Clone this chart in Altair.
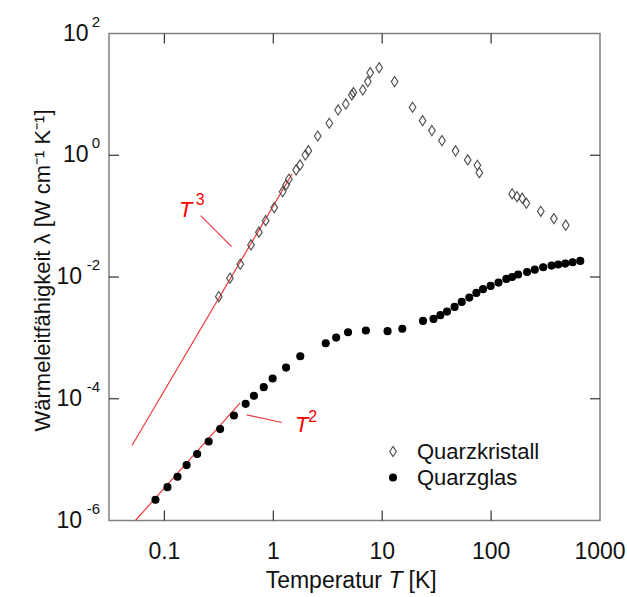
import altair as alt
import pandas as pd

# ---------------- data ----------------
crystal_T = [0.316, 0.400, 0.497, 0.624, 0.738, 0.851, 1.02, 1.22, 1.31, 1.39, 1.62, 1.76,
             1.97, 2.10, 2.56, 3.27, 3.94, 4.63, 5.26, 5.44, 6.64, 7.38, 7.76, 9.38, 13.0,
             19.0, 23.5, 28.6, 35.4, 47.2, 61.0, 74.8, 78.0, 156, 173, 193, 211, 286, 377, 485]
crystal_L = [0.00476, 0.00955, 0.0162, 0.0337, 0.0545, 0.0843, 0.138, 0.252, 0.325, 0.404,
             0.574, 0.693, 1.01, 1.19, 2.07, 3.35, 5.55, 6.95, 9.77, 10.7, 11.8, 16.2, 22.7,
             27.4, 16.2, 6.14, 3.70, 2.54, 1.74, 1.18, 0.838, 0.685, 0.518, 0.232, 0.209,
             0.197, 0.163, 0.120, 0.091, 0.071]

glass_T = [0.0828, 0.1067, 0.132, 0.160, 0.200, 0.255, 0.325, 0.435, 0.557, 0.664, 0.817,
           0.986, 1.31, 1.77, 3.03, 3.78, 4.86, 7.08, 11.2, 15.3, 23.7, 29.6, 34.2, 39.4,
           46.2, 53.7, 63.1, 73.3, 84.3, 99.1, 117, 138, 156, 177, 214, 252, 301, 359, 413,
           480, 560, 659]
glass_L = [2.19e-6, 3.53e-6, 5.22e-6, 8.13e-6, 1.24e-5, 1.98e-5, 3.17e-5, 5.30e-5, 8.24e-5,
           1.12e-4, 1.55e-4, 2.15e-4, 3.25e-4, 5.00e-4, 8.18e-4, 1.01e-3, 1.24e-3, 1.32e-3,
           1.29e-3, 1.41e-3, 1.90e-3, 2.05e-3, 2.36e-3, 2.70e-3, 3.23e-3, 3.90e-3, 4.59e-3,
           5.48e-3, 6.31e-3, 7.14e-3, 8.09e-3, 9.31e-3, 1.00e-2, 1.10e-2, 1.21e-2, 1.32e-2,
           1.45e-2, 1.54e-2, 1.60e-2, 1.66e-2, 1.75e-2, 1.84e-2]

series_names = ["Quarzkristall", "Quarzglas"]

# fit lines (end points)
t3_T = [0.0504, 1.486]
t3_L = [1.71e-5, 0.493]
t2_T = [0.0542, 0.494]
t2_L = [1.0e-6, 8.47e-5]

# annotation leader lines (end points)
lead3_T = [0.215, 0.414]
lead3_L = [0.102, 0.0316]
lead2_T = [0.569, 1.195]
lead2_L = [5.44e-5, 4.07e-5]

x_ticks = [0.1, 1, 10, 100]
x_labels = [0.1, 1, 10, 100, 1000]
x_label_text = ["0.1", "1", "10", "100", "1000"]
y_ticks = [1, 0.01, 1e-4]
y_pos_vals = [1e2, 1e0]
y_pos_exp = ["2", "0"]
y_neg_vals = [1e-2, 1e-4, 1e-6]
y_neg_exp = ["-2", "-4", "-6"]

# ---------------- layout ----------------
W, H = 491, 487
FONT = "Liberation Sans"
RED = "#ff0000"
DIAMOND = "M0,-1.45L0.95,0L0,1.45L-0.95,0Z"

xs = alt.Scale(type="log", domain=[0.031, 1000], nice=False)
ys = alt.Scale(type="log", domain=[1e-6, 1e2], nice=False)


def X(f="T"):
    return alt.X(f"{f}:Q", scale=xs, axis=None)


def Y(f="L"):
    return alt.Y(f"{f}:Q", scale=ys, axis=None)


pts = pd.DataFrame({
    "T": crystal_T + glass_T,
    "L": crystal_L + glass_L,
    "s": [series_names[0]] * len(crystal_T) + [series_names[1]] * len(glass_T),
})

legend = alt.Legend(title=None, orient="none", legendX=273, legendY=407,
                    labelFont=FONT, labelFontSize=22, labelColor="#111",
                    labelOffset=13, rowPadding=4, symbolSize=49, symbolStrokeWidth=1.1,
                    padding=0)

points = alt.Chart(pts).mark_point(size=49, strokeWidth=1.1, opacity=1).encode(
    x=X(), y=Y(),
    shape=alt.Shape("s:N", scale=alt.Scale(domain=series_names, range=[DIAMOND, "circle"]), legend=legend),
    fill=alt.Fill("s:N", scale=alt.Scale(domain=series_names, range=["transparent", "black"]), legend=legend),
    stroke=alt.Stroke("s:N", scale=alt.Scale(domain=series_names, range=["#4a4a4a", "black"]), legend=legend),
)

lines_df = pd.DataFrame({
    "T": t3_T + t2_T + lead3_T + lead2_T,
    "L": t3_L + t2_L + lead3_L + lead2_L,
    "g": ["t3"] * 2 + ["t2"] * 2 + ["l3"] * 2 + ["l2"] * 2,
})
red_lines = alt.Chart(lines_df).mark_line(color="#f03a3a", strokeWidth=1.2).encode(
    x=X(), y=Y(), detail="g:N")

# T^n annotations
ann_T = pd.DataFrame({"T": [0.157, 1.824], "L": [0.097, 2.89e-5], "t": ["T", "T"]})
ann_n = pd.DataFrame({"T": [0.194, 2.099], "L": [0.153, 4.22e-5], "t": ["3", "2"]})
ann1 = alt.Chart(ann_T).mark_text(font=FONT, fontSize=22, fontStyle="italic", color=RED,
                                  align="center", baseline="alphabetic").encode(
    x=X(), y=Y(), text="t:N")
ann2 = alt.Chart(ann_n).mark_text(font=FONT, fontSize=16, color=RED,
                                  align="left", baseline="alphabetic").encode(
    x=X(), y=Y(), text="t:N")

# inward ticks
xt = pd.DataFrame({"T": x_ticks})
yt = pd.DataFrame({"L": y_ticks})
tick_style = dict(color="#333", strokeWidth=1.2)
tb = alt.Chart(xt).mark_rule(**tick_style).encode(x=X(), y=alt.value(H), y2=alt.value(H - 10))
tt = alt.Chart(xt).mark_rule(**tick_style).encode(x=X(), y=alt.value(0), y2=alt.value(10))
tl = alt.Chart(yt).mark_rule(**tick_style).encode(y=Y(), x=alt.value(0), x2=alt.value(10))
tr = alt.Chart(yt).mark_rule(**tick_style).encode(y=Y(), x=alt.value(W), x2=alt.value(W - 10))

# x tick labels
xl = pd.DataFrame({"T": x_labels, "t": x_label_text})
xlab = alt.Chart(xl).mark_text(font=FONT, fontSize=23, color="#111", align="center",
                               baseline="alphabetic").encode(
    x=X(), y=alt.value(H + 38.5), text="t:N")

# y tick labels: "10" + exponent
ylp = pd.DataFrame({"L": y_pos_vals, "e": y_pos_exp, "b": ["10"] * len(y_pos_vals)})
yln = pd.DataFrame({"L": y_neg_vals, "e": y_neg_exp, "b": ["10"] * len(y_neg_vals)})
ybase_pos = alt.Chart(ylp).mark_text(
    font=FONT, fontSize=23, color="#111", align="right", baseline="alphabetic", dy=7).encode(
    y=Y(), x=alt.value(-20.5), text="b:N")
ybase_neg = alt.Chart(yln).mark_text(
    font=FONT, fontSize=23, color="#111", align="right", baseline="alphabetic", dy=7).encode(
    y=Y(), x=alt.value(-27), text="b:N")
yexp_pos = alt.Chart(ylp).mark_text(
    font=FONT, fontSize=15, color="#111", align="right", baseline="alphabetic", dy=-7).encode(
    y=Y(), x=alt.value(-9), text="e:N")
yexp_neg = alt.Chart(yln).mark_text(
    font=FONT, fontSize=15, color="#111", align="right", baseline="alphabetic", dy=-7).encode(
    y=Y(), x=alt.value(-9), text="e:N")

# axis titles
ttl = pd.DataFrame({"t": ["Wärmeleitfähigkeit λ [W cm⁻¹ K⁻¹]"]})
ytitle = alt.Chart(ttl).mark_text(font=FONT, fontSize=22, color="#111", angle=270,
                                  align="center", baseline="alphabetic").encode(
    x=alt.value(-59), y=alt.value(237), text="t:N")
xt_parts = pd.DataFrame({"t": ["Temperatur", "T", "[K]"]})
xt1 = alt.Chart(xt_parts).transform_filter("datum.t == 'Temperatur'").mark_text(
    font=FONT, fontSize=23, color="#111", align="right", baseline="alphabetic").encode(
    x=alt.value(273), y=alt.value(H + 67.5), text="t:N")
xt2 = alt.Chart(xt_parts).transform_filter("datum.t == 'T'").mark_text(
    font=FONT, fontSize=23, color="#111", align="left", fontStyle="italic", baseline="alphabetic").encode(
    x=alt.value(279.5), y=alt.value(H + 67.5), text="t:N")
xt3 = alt.Chart(xt_parts).transform_filter("datum.t == '[K]'").mark_text(
    font=FONT, fontSize=23, color="#111", align="left", baseline="alphabetic").encode(
    x=alt.value(299.5), y=alt.value(H + 67.5), text="t:N")

chart = alt.layer(
    red_lines, points, ann1, ann2, tb, tt, tl, tr, xlab, ybase_pos, ybase_neg,
    yexp_pos, yexp_neg, ytitle, xt1, xt2, xt3
).properties(
    width=W, height=H, autosize="none",
    padding={"left": 109, "top": 33.5, "right": 27, "bottom": 76.5},
).configure_view(stroke="#808080", strokeWidth=1.5)

chart.save("out.html", embed_options={"renderer": "svg", "actions": False})
